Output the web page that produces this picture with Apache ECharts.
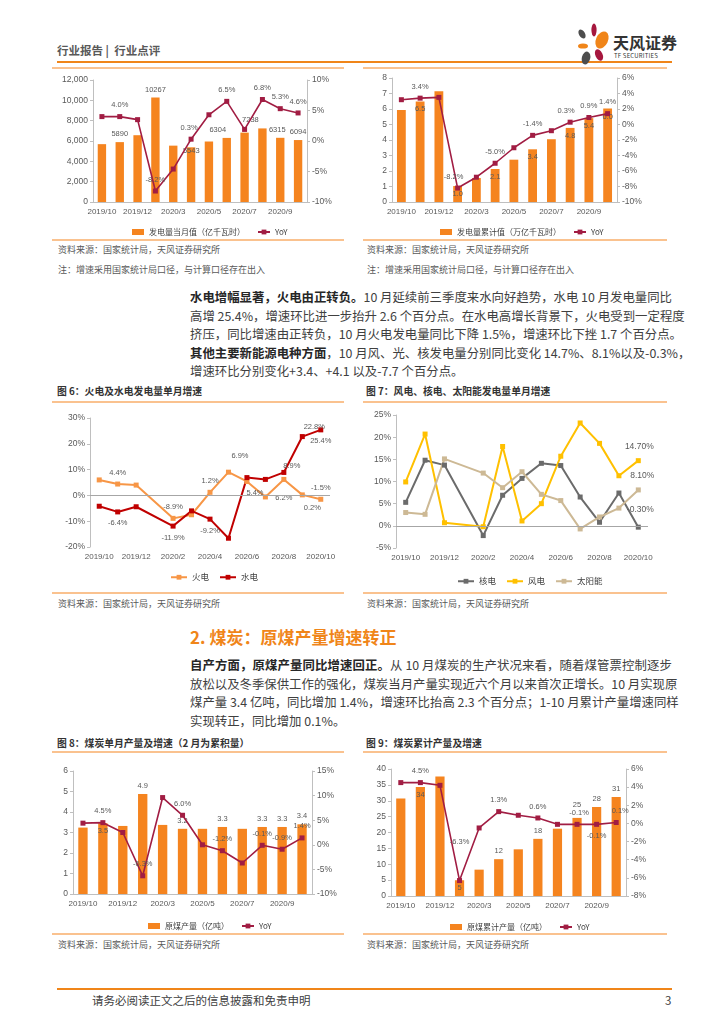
<!DOCTYPE html>
<html><head><meta charset="utf-8">
<script src="https://cdn.jsdelivr.net/npm/echarts@6/dist/echarts.min.js"></script>
<style>
body{margin:0;width:724px;height:1024px;position:relative;background:#fff;font-family:"Noto Sans CJK SC","Noto Sans",sans-serif;overflow:hidden}
.t{position:absolute;white-space:nowrap}
.hl{position:absolute;height:0}
.chart{position:absolute}
.pl{position:absolute;left:190px;width:482px;font-size:12.4px;color:#404040;white-space:nowrap;text-align:justify;text-align-last:justify;height:18px;line-height:18px}
.pl.last{text-align:left;text-align-last:left}
.pl b{color:#262626}
</style></head><body>
<script>
// ---------- DATA ----------
const catsA = ['2019/10','2019/11','2019/12','2020/2','2020/3','2020/4','2020/5','2020/6','2020/7','2020/8','2020/9','2020/10'];
const catsB = ['2019/10','2019/11','2019/12','2020/1','2020/2','2020/3','2020/4','2020/5','2020/6','2020/7','2020/8','2020/9','2020/10'];

const genMonthly    = [5690, 5890, 6570, 10267, 5543, 5380, 5950, 6304, 6824, 7238, 6315, 6094];
const genMonthlyYoy = [4.0, 4.0, 3.5, -8.2, -4.6, 0.3, 4.3, 6.5, 1.9, 6.8, 5.3, 4.6];
const genCum        = [5.93, 6.49, 7.15, 1.03, 1.55, 2.13, 2.73, 3.40, 4.05, 4.78, 5.41, 6.03];
const genCumYoy     = [3.2, 3.4, 3.5, -8.2, -6.8, -5.0, -3.0, -1.4, -0.8, 0.3, 0.9, 1.4];

const thermal = [6.0, 4.4, 4.0, null, -8.9, -7.5, 1.2, 9.0, 5.4, -0.6, 6.2, 0.2, -1.5];
const hydro   = [-4.2, -6.4, -4.4, null, -11.9, -6.0, -9.2, -16.6, 6.9, 6.2, 8.9, 22.8, 25.4];
const nuclear = [5.3, 14.8, 13.7, null, -2.2, 6.9, 10.7, 14.1, 13.6, 6.5, 0.8, 7.4, -0.3];
const wind    = [9.9, 20.7, 0.7, null, -0.2, 17.9, 1.1, 5.0, 15.7, 23.2, 18.6, 11.3, 14.7];
const solar   = [3.0, 2.6, 15.1, null, 11.9, 8.6, 12.2, 7.1, 5.7, -0.7, 2.0, 4.0, 8.1];

const coalMonthly    = [3.24, 3.45, 3.32, 4.88, 3.37, 3.18, 3.18, 3.27, 3.18, 3.27, 3.27, 3.40];
const coalMonthlyYoy = [4.4, 4.5, 2.5, -6.3, 9.6, 6.0, 0.0, -1.2, -3.7, -0.1, -0.9, 1.4];
const coalCum        = [30.7, 34.3, 37.6, 4.96, 8.3, 11.6, 14.7, 18.0, 21.2, 24.6, 28.0, 31.2];
const coalCumYoy     = [4.5, 4.5, 4.2, -6.3, -0.5, 1.3, 0.9, 0.6, -0.1, -0.1, -0.1, 0.1];

// ---------- PAGE DECOR ----------
const FONT = '"Noto Sans CJK SC", sans-serif';
const NUMF = '"Liberation Sans", Arial, sans-serif';
const ORANGE = '#F08519', LIGHT = '#FAC28F';
function txt(x, cy, html, css){ const d=document.createElement('div'); d.className='t'; d.innerHTML=html;
  d.style.left=x+'px'; d.style.top=(cy-9)+'px'; d.style.lineHeight='18px'; Object.assign(d.style, css||{}); document.body.appendChild(d); return d; }
function line(x1,x2,y,color,w){ const d=document.createElement('div'); d.className='hl'; d.style.left=x1+'px'; d.style.width=(x2-x1)+'px';
  d.style.top=(y-w/2)+'px'; d.style.borderTop=w+'px solid '+color; document.body.appendChild(d); }

txt(57, 50, '行业报告&nbsp;|&nbsp;&nbsp;行业点评', {fontSize:'11.5px', color:'#595959', fontWeight:'bold'});
line(57, 672, 62, ORANGE, 2);
// logo
const lg = document.createElement('div'); lg.style.cssText='position:absolute;left:573px;top:22px;width:40px;height:44px';
lg.innerHTML = '<svg width="40" height="44" viewBox="0 0 40 44">'+
 '<ellipse cx="21" cy="8" rx="2.6" ry="6.5" fill="#A6173E"/>'+
 '<ellipse cx="9" cy="12" rx="3" ry="5" fill="#4D4D4D" transform="rotate(-30 9 12)"/>'+
 '<ellipse cx="29" cy="18" rx="6" ry="9" fill="#F08519" transform="rotate(25 29 18)"/>'+
 '<ellipse cx="10" cy="24" rx="5" ry="2.6" fill="#F08519"/>'+
 '<ellipse cx="26" cy="33" rx="3.6" ry="6" fill="#A6173E" transform="rotate(-25 26 33)"/>'+
 '<ellipse cx="13" cy="36" rx="4.2" ry="6.5" fill="#4D4D4D" transform="rotate(15 13 36)"/>'+
 '</svg>';
document.body.appendChild(lg);
txt(613, 42, '天风证券', {fontSize:'16px', fontWeight:'bold', color:'#333'});
txt(614, 56, 'TF SECURITIES', {fontSize:'6px', color:'#333', letterSpacing:'0.2px'});

// chart frame lines
[[52,344],[363,667]].forEach(([a,b])=>{ line(a,b,68,LIGHT,2); line(a,b,240,LIGHT,2); line(a,b,402,LIGHT,2); line(a,b,593,LIGHT,2); line(a,b,752,LIGHT,2); line(a,b,934,LIGHT,2); });
const srcCss = {fontSize:'9px', color:'#595959'};
[250, 604, 945].forEach(y=>{ txt(58,y,'资料来源：国家统计局，天风证券研究所',srcCss); txt(367,y,'资料来源：国家统计局，天风证券研究所',srcCss); });
txt(58,270,'注：增速采用国家统计局口径，与计算口径存在出入',srcCss); txt(367,270,'注：增速采用国家统计局口径，与计算口径存在出入',srcCss);
const ttlCss = {fontSize:'9.8px', fontWeight:'bold', color:'#333'};
txt(57,391,'图 6：火电及水电发电量单月增速',ttlCss);
txt(366,391,'图 7：风电、核电、太阳能发电量单月增速',ttlCss);
txt(57,743,'图 8：煤炭单月产量及增速（2 月为累积量）',ttlCss);
txt(366,743,'图 9：煤炭累计产量及增速',ttlCss);

// paragraphs
function pl(y, html, last){ const d=document.createElement('div'); d.className='pl'+(last?' last':''); d.style.top=(y-9)+'px'; d.innerHTML=html; document.body.appendChild(d); }
pl(297,'<b>水电增幅显著，火电由正转负。</b>10 月延续前三季度来水向好趋势，水电 10 月发电量同比');
pl(315.5,'高增 25.4%，增速环比进一步抬升 2.6 个百分点。在水电高增长背景下，火电受到一定程度');
pl(334,'挤压，同比增速由正转负，10 月火电发电量同比下降 1.5%，增速环比下挫 1.7 个百分点。');
pl(352.5,'<b>其他主要新能源电种方面</b>，10 月风、光、核发电量分别同比变化 14.7%、8.1%以及-0.3%，');
pl(371,'增速环比分别变化+3.4、+4.1 以及-7.7 个百分点。', true);
txt(190, 637, '2. 煤炭：原煤产量增速转正', {fontSize:'17px', fontWeight:'bold', color:'#F08519'});
pl(665,'<b>自产方面，原煤产量同比增速回正。</b>从 10 月煤炭的生产状况来看，随着煤管票控制逐步');
pl(683.5,'放松以及冬季保供工作的强化，煤炭当月产量实现近六个月以来首次正增长。10 月实现原');
pl(702,'煤产量 3.4 亿吨，同比增加 1.4%，增速环比抬高 2.3 个百分点；1-10 月累计产量增速同样');
pl(720.5,'实现转正，同比增加 0.1%。', true);

line(57, 672, 989, ORANGE, 2);
txt(92, 1000, '请务必阅读正文之后的信息披露和免责申明', {fontSize:'11.5px', color:'#404040'});
txt(665, 1000, '3', {fontSize:'11.5px', color:'#404040'});

// ---------- CHARTS ----------
const BAR = '#F5841F', LINE = '#A11D43', AX = '#BFBFBF', TXT = '#595959';
function mk(box, plot){
  const d=document.createElement('div'); d.className='chart';
  d.style.left=box[0]+'px'; d.style.top=box[1]+'px'; d.style.width=box[2]+'px'; d.style.height=box[3]+'px';
  document.body.appendChild(d);
  return { c: echarts.init(d), grid:{left:plot[0]-box[0], top:plot[1]-box[1], width:plot[2]-plot[0], height:plot[3]-plot[1]} };
}
function lab(arr, spec, fmt, base){
  return arr.map((v,i)=> spec[i] ? {value:v, label:Object.assign({show:true, formatter:fmt, fontSize:7.5, color:TXT, fontFamily:NUMF}, base||{}, spec[i])} : v);
}
const yAxisBase = (min,max,step,fmt,pos)=>({type:'value', min, max, interval:step, position:pos,
  axisLine:{show:true, lineStyle:{color:AX}}, axisTick:{show:true, length:3, lineStyle:{color:AX}},
  splitLine:{show:false}, axisLabel:{formatter:fmt, fontSize:8.5, color:TXT, fontFamily:NUMF, margin:5}});
const xAxisBase = (cats)=>({type:'category', data:cats, axisTick:{show:false}, axisLine:{lineStyle:{color:AX}},
  axisLabel:{interval:1, showMinLabel:true, hideOverlap:false, fontSize:8, color:TXT, fontFamily:NUMF, margin:6}});
const pct = v=>v+'%';
const comma = v=>v.toLocaleString('en-US');

function combo(box, plot, legX, legY, cats, bars, yoy, barName, yl, yr, barLab, lineLab, barFmt, lineFmt, barBase){
  const {c, grid} = mk(box, plot);
  c.setOption({
    animation:false, grid,
    legend:{left:legX-box[0], top:legY-box[1]-5, itemWidth:12, itemHeight:6, itemGap:12,
      textStyle:{fontSize:8, color:'#404040', fontFamily:FONT},
      data:[{name:barName, icon:'rect'}, {name:'YoY'}]},
    xAxis: xAxisBase(cats),
    yAxis:[yAxisBase(yl[0],yl[1],yl[2],yl[3],'left'), yAxisBase(yr[0],yr[1],yr[2],pct,'right')],
    series:[
      {name:barName, type:'bar', barWidth:'47%', itemStyle:{color:BAR}, data:lab(bars, barLab, barFmt, barBase||{position:'top', distance:4})},
      {name:'YoY', type:'line', yAxisIndex:1, symbol:'rect', symbolSize:5, lineStyle:{color:LINE, width:1.6}, itemStyle:{color:LINE},
       data:lab(yoy, lineLab, lineFmt, {position:'top', distance:5})}
    ]
  });
}

// Chart 1
combo([53,70,297,168],[93,80,307,202],127,228,catsA,genMonthly,genMonthlyYoy,'发电量当月值（亿千瓦时）',
  [0,12000,2000,comma],[-10,10,5],
  {1:{},3:{},4:{offset:[18,13]},7:{offset:[-9,0]},9:{offset:[-12,0]},10:{offset:[-3,0]},11:{}},
  {1:{},3:{},5:{offset:[-2,0]},7:{},9:{},10:{},11:{}},
  p=>String(p.value), p=>p.value.toFixed(1)+'%');

// Chart 2
combo([362,70,306,168],[392,78,617,202],435,228,catsA,genCum,genCumYoy,'发电量累计值（万亿千瓦时）',
  [0,8,1,v=>v],[-10,6,2],
  {1:{},3:{},5:{},7:{},9:{},10:{},11:{}},
  {1:{},3:{offset:[-4,0]},5:{},7:{},9:{offset:[-4,0]},10:{},11:{}},
  p=>p.value.toFixed(1), p=>p.value.toFixed(1)+'%', {position:'insideTop', distance:4});

// Chart 5
combo([53,755,294,178],[73,771,312,894],143,922,catsA,coalMonthly,coalMonthlyYoy,'原煤产量（亿吨）',
  [0,6,1,v=>v],[-10,15,5],
  {1:{position:'insideTop'},3:{},5:{},7:{},9:{},10:{},11:{}},
  {1:{},3:{},5:{},7:{},9:{},10:{},11:{}},
  p=>p.value.toFixed(1), p=>p.value.toFixed(1)+'%');

// Chart 6
combo([362,755,306,178],[391,769,626,896],445,923,catsA,coalCum,coalCumYoy,'原煤累计产量（亿吨）',
  [0,40,5,v=>v],[-8,6,2],
  {1:{position:'insideTop'},3:{position:'insideTop'},5:{},7:{},9:{offset:[0,-5]},10:{},11:{}},
  {1:{},3:{offset:[0,-27]},5:{},7:{},9:{offset:[2,0]},10:{position:'bottom'},11:{offset:[4,0]}},
  p=>p.value.toFixed(0), p=>p.value.toFixed(1)+'%');

// line charts
function lines(box, plot, legX, legY, yr, series, fmtLab){
  const {c, grid} = mk(box, plot);
  c.setOption({
    animation:false, grid,
    legend:{left:legX-box[0], top:legY-box[1]-5, itemWidth:16, itemHeight:6, itemGap:10,
      textStyle:{fontSize:8.5, color:'#404040', fontFamily:FONT}, data:series.map(s=>s.name)},
    xAxis: Object.assign(xAxisBase(catsB), {axisLine:{show:false}}),
    yAxis: yAxisBase(yr[0],yr[1],yr[2],pct,'left'),
    series: series.map((s,k)=>({name:s.name, type:'line', connectNulls:true, symbol:'rect', symbolSize:5,
      lineStyle:{color:s.color, width:2}, itemStyle:{color:s.color},
      data:lab(s.data, s.lab, fmtLab, {position:'top', distance:5, fontSize:s.fs||7.5}),
      markLine: k===0 ? {silent:true, symbol:['none','none'], label:{show:false}, lineStyle:{color:'#A6A6A6', type:'solid', width:1}, data:[{yAxis:0}]} : undefined
    }))
  });
}
lines([53,405,294,180],[90,418,330,547],165,573,[-20,30,10],[
  {name:'火电', color:'#F79646', data:thermal,
   lab:{1:{},4:{},6:{},8:{position:'bottom',offset:[8,0]},10:{position:'bottom',offset:[0,7]},11:{position:'bottom',offset:[10,2]},12:{}}},
  {name:'水电', color:'#C00000', data:hydro,
   lab:{1:{position:'bottom'},4:{position:'bottom'},6:{position:'bottom'},8:{offset:[-7,-10]},10:{offset:[8,5]},11:{offset:[12,2]},12:{position:'bottom'}}}
], p=>p.value.toFixed(1)+'%');

lines([362,405,306,180],[396,415,648,548],452,577,[-5,25,5],[
  {name:'核电', color:'#6B6B6B', data:nuclear, lab:{12:{offset:[2,-6]}}, fs:8.5},
  {name:'风电', color:'#FFC000', data:wind, lab:{12:{offset:[1,-2]}}, fs:8.5},
  {name:'太阳能', color:'#CDB995', data:solar, lab:{12:{offset:[4,-2]}}, fs:8.5}
], p=>p.value.toFixed(2)+'%');
</script>
</body></html>
